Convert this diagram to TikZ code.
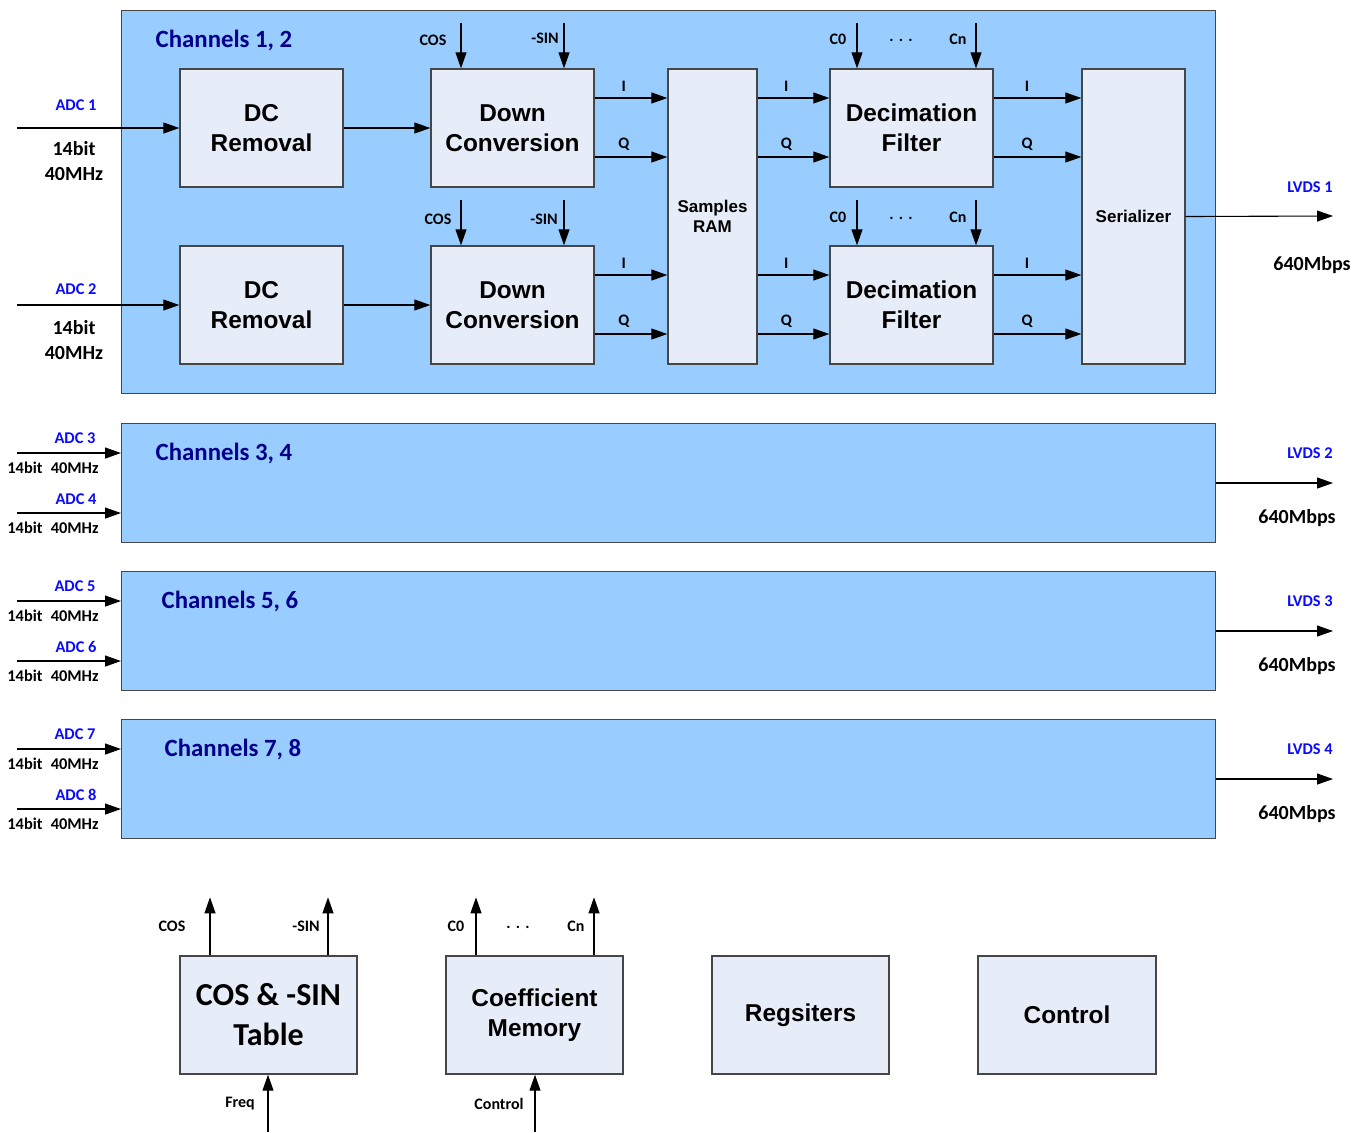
\documentclass[tikz,border=0pt]{standalone}
\usepackage{fontspec}
\setmainfont{Carlito}
\newfontfamily\arialfont{Liberation Sans}
\usetikzlibrary{arrows.meta,positioning}

\definecolor{chanblue}{RGB}{153,204,255}
\definecolor{blkfill}{RGB}{230,237,248}
\definecolor{edgegray}{RGB}{70,70,70}
\definecolor{titlenavy}{RGB}{0,0,140}
\definecolor{adcblue}{RGB}{10,10,255}

\tikzset{
  chan/.style={draw=edgegray, fill=chanblue, line width=0.7pt, inner sep=0pt},
  blk/.style={draw=edgegray, fill=blkfill, line width=0.7pt, align=center, inner sep=0pt,
    font=\arialfont\bfseries\fontsize{12.2}{15}\selectfont},
  smallblk/.style={blk, font=\arialfont\bfseries\fontsize{8.5}{10}\selectfont},
  arr/.style={-{Triangle[length=8pt,width=5.5pt]}, line width=0.55pt},
  lbl/.style={inner sep=1pt, font=\bfseries\fontsize{8}{9}\selectfont},
  adc/.style={lbl, text=adcblue, font=\bfseries\fontsize{8.2}{10}\selectfont},
  rate/.style={inner sep=1pt, align=center, font=\bfseries\fontsize{10}{12.5}\selectfont},
  small rate/.style={inner sep=1pt, font=\bfseries\fontsize{8.2}{10}\selectfont},
  title/.style={inner sep=0pt, text=titlenavy, font=\bfseries\fontsize{12.4}{15}\selectfont},
}

\begin{document}
\begin{tikzpicture}[x=0.5pt,y=-0.5pt]
  \useasboundingbox (0,0) rectangle (1353,1132);

  % channels 1, 2
  \node[chan, minimum width=547pt, minimum height=191.5pt, anchor=north west] (ch1) at (121,10) {};
  \node[title] (t1) at (224,40) {Channels 1, 2};

  \node[blk, minimum width=81.5pt, minimum height=59pt] (dc1) at (261.5,128) {DC\\Removal};
  \node[blk, minimum width=81.5pt, minimum height=59pt] (dc2) at (261.5,305) {DC\\Removal};
  \node[blk, minimum width=81.5pt, minimum height=59pt] (down1) at (512.5,128) {Down\\Conversion};
  \node[blk, minimum width=81.5pt, minimum height=59pt] (down2) at (512.5,305) {Down\\Conversion};
  \node[smallblk, minimum width=44.5pt, minimum height=147.5pt] (ram) at (712.5,216.5) {Samples\\RAM};
  \node[blk, minimum width=81.5pt, minimum height=59pt] (dec1) at (911.5,128) {Decimation\\Filter};
  \node[blk, minimum width=81.5pt, minimum height=59pt] (dec2) at (911.5,305) {Decimation\\Filter};
  \node[smallblk, minimum width=51.5pt, minimum height=147.5pt] (ser) at (1133.5,216.5) {Serializer};

  % inputs
  \coordinate (in1) at (17,128);
  \coordinate (in2) at (17,305);
  \draw[arr] (in1) -- (dc1.west);
  \draw[arr] (in2) -- (dc2.west);
  \node[adc] (adc1) at (76,105) {ADC 1};
  \node[rate] (r1) at (74,161) {14bit\\40MHz};
  \node[adc] (adc2) at (76,289) {ADC 2};
  \node[rate] (r2) at (74,340) {14bit\\40MHz};

  \draw[arr] (dc1) -- (down1);
  \draw[arr] (dc2) -- (down2);

  % I/Q paths
  \foreach \n in {1,2}{
    \draw[arr] ([yshift=15pt]down\n.east) -- node[lbl,above=2pt,pos=0.4] {I} ([yshift=15pt]down\n.east -| ram.west);
    \draw[arr] ([yshift=-14.5pt]down\n.east) -- node[lbl,above=2pt,pos=0.4] {Q} ([yshift=-14.5pt]down\n.east -| ram.west);
    \draw[arr] ([yshift=15pt]down\n.east -| ram.east) -- node[lbl,above=2pt,pos=0.4] {I} ([yshift=15pt]dec\n.west);
    \draw[arr] ([yshift=-14.5pt]down\n.east -| ram.east) -- node[lbl,above=2pt,pos=0.4] {Q} ([yshift=-14.5pt]dec\n.west);
    \draw[arr] ([yshift=15pt]dec\n.east) -- node[lbl,above=2pt,pos=0.38] {I} ([yshift=15pt]dec\n.east -| ser.west);
    \draw[arr] ([yshift=-14.5pt]dec\n.east) -- node[lbl,above=2pt,pos=0.38] {Q} ([yshift=-14.5pt]dec\n.east -| ser.west);
    \draw[arr] ([xshift=-25.75pt,yshift=22.5pt]down\n.north) -- ([xshift=-25.75pt]down\n.north);
    \draw[arr] ([xshift=25.75pt,yshift=22.5pt]down\n.north) -- ([xshift=25.75pt]down\n.north);
    \draw[arr] ([xshift=-27.25pt,yshift=22.5pt]dec\n.north) -- ([xshift=-27.25pt]dec\n.north);
    \draw[arr] ([xshift=32.25pt,yshift=22.5pt]dec\n.north) -- ([xshift=32.25pt]dec\n.north);
  }
  \node[lbl] (cosA) at (433,40) {COS};
  \node[lbl] (sinA) at (545,38) {-SIN};
  \node[lbl] (czA) at (838,39) {C0};
  \node[lbl] (dotA) at (901,40) {.\,\,.\,\,.};
  \node[lbl] (cnA) at (958,39) {Cn};
  \node[lbl] (cosB) at (438,219) {COS};
  \node[lbl] (sinB) at (544,219) {-SIN};
  \node[lbl] (czB) at (838,217) {C0};
  \node[lbl] (dotB) at (901,218) {.\,\,.\,\,.};
  \node[lbl] (cnB) at (958,217) {Cn};

  % output
  \coordinate (out1) at (1333,216);
  \draw[arr] (ser.east) -- (out1);
  \node[adc] (lvds1) at (1310,187) {LVDS 1};
  \node[rate] (bw1) at (1312,265) {640Mbps};

  % channels 3 to 8
  \foreach \a/\yy/\tx in {3/423/224,5/571/230,7/719/233}{
    \pgfmathtruncatemacro{\b}{\a+1}
    \pgfmathtruncatemacro{\l}{(\a+1)/2}
    \node[chan, minimum width=547pt, minimum height=59.5pt, anchor=north west] (ch\a) at (121,\yy) {};
    \node[title] (t\a) at (\tx,\yy+30) {Channels \a, \b};
    \coordinate (in\a) at (17,\yy+30);
    \coordinate (in\b) at (17,\yy+90);
    \coordinate (out\l) at (1333,\yy+60);
    \draw[arr] (in\a) -- (in\a -| ch\a.west);
    \draw[arr] (in\b) -- (in\b -| ch\a.west);
    \draw[arr] (out\l -| ch\a.east) -- (out\l);
    \node[adc] (adc\a) at (75,\yy+15) {ADC \a};
    \node[small rate] (r\a) at (53,\yy+45) {14bit\enspace40MHz};
    \node[adc] (adc\b) at (76,\yy+76) {ADC \b};
    \node[small rate] (r\b) at (53,\yy+105) {14bit\enspace40MHz};
    \node[adc] (lvds\l) at (1310,\yy+30) {LVDS \l};
    \node[rate] (bw\l) at (1297,\yy+95) {640Mbps};
  }

  % shared blocks
  \node[blk, minimum width=88.5pt, minimum height=59pt, font=\bfseries\fontsize{16}{20}\selectfont] (tab) at (268.5,1015) {COS \& -SIN\\Table};
  \node[blk, minimum width=88.5pt, minimum height=59pt] (coef) at (534.5,1015) {Coefficient\\Memory};
  \node[blk, minimum width=88.5pt, minimum height=59pt] (regs) at (800.5,1015) {Regsiters};
  \node[blk, minimum width=89pt, minimum height=59pt] (ctrl) at (1067,1015) {Control};

  \draw[arr] ([xshift=-29.25pt]tab.north) -- ([xshift=-29.25pt,yshift=29pt]tab.north);
  \draw[arr] ([xshift=29.75pt]tab.north) -- ([xshift=29.75pt,yshift=29pt]tab.north);
  \draw[arr] ([xshift=-29.25pt]coef.north) -- ([xshift=-29.25pt,yshift=29pt]coef.north);
  \draw[arr] ([xshift=29.75pt]coef.north) -- ([xshift=29.75pt,yshift=29pt]coef.north);
  \coordinate (freq) at (268,1132);
  \coordinate (cin) at (535,1132);
  \draw[arr] (freq) -- (freq |- tab.south);
  \draw[arr] (cin) -- (cin |- coef.south);

  \node[lbl] (cosC) at (172,926) {COS};
  \node[lbl] (sinC) at (306,926) {-SIN};
  \node[lbl] (czC) at (456,926) {C0};
  \node[lbl] (dotC) at (518,927) {.\,\,.\,\,.};
  \node[lbl] (cnC) at (576,926) {Cn};
  \node[lbl] (freqL) at (240,1104) {Freq};
  \node[lbl] (cinL) at (499,1104) {Control};
\end{tikzpicture}
\end{document}
